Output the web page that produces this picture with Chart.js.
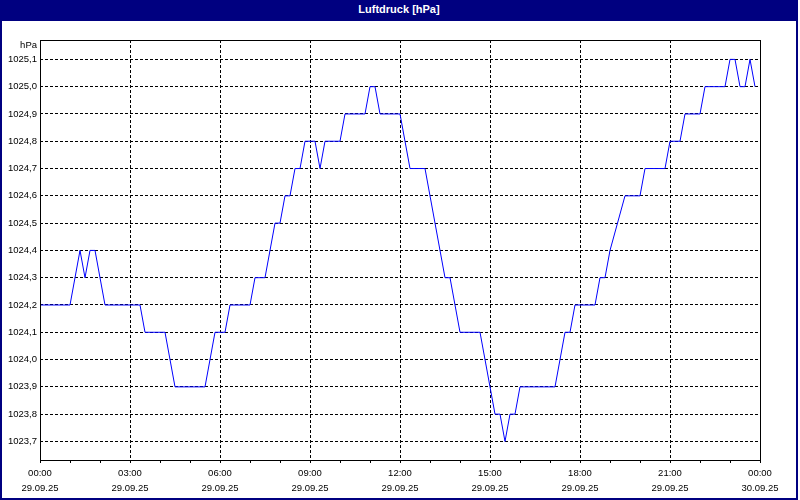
<!DOCTYPE html>
<html>
<head>
<meta charset="utf-8">
<script src="https://cdn.jsdelivr.net/npm/chart.js@4"></script>
<style>
  body { margin: 0; background: #fff; }
  #wrap { position: relative; width: 800px; height: 500px; background: #fff; }
  #chart { position: absolute; left: 0; top: 0; }
  #frame { position: absolute; left: 0; top: 0; width: 798px; height: 500px; box-sizing: border-box; border: 2px solid #000080; pointer-events: none; }
  #title { position: absolute; left: 0; top: 0; width: 798px; height: 21px; background: #000080; color: #fff; font: bold 11px "Liberation Sans", sans-serif; text-align: center; line-height: 19px; }
</style>
</head>
<body>
<div id="wrap">
  <canvas id="chart" width="800" height="500"></canvas>
  <div id="frame"></div>
  <div id="title">Luftdruck [hPa]</div>
</div>
<script>
const times = [
  "00:00", "01:00", "01:20", "01:30", "01:40", "01:50", "02:10", "03:20", "03:30", "04:10",
  "04:30", "05:30", "05:50", "06:10", "06:20", "07:00", "07:10", "07:30", "07:50", "08:00",
  "08:10", "08:20", "08:30", "08:40", "08:50", "09:10", "09:20", "09:30", "10:00", "10:10",
  "10:50", "11:00", "11:10", "11:20", "12:00", "12:20", "12:50", "13:30", "13:40", "14:00",
  "14:40", "15:10", "15:20", "15:30", "15:40", "15:50", "16:00", "17:10", "17:30", "17:40",
  "17:50", "18:30", "18:40", "18:50", "19:00", "19:30", "20:00", "20:10", "20:50", "21:00",
  "21:20", "21:30", "22:00", "22:10", "22:50", "23:00", "23:10", "23:20", "23:30", "23:40",
  "23:50"
];
const values = [
  1024.2, 1024.2, 1024.4, 1024.3, 1024.4, 1024.4, 1024.2, 1024.2, 1024.1, 1024.1,
  1023.9, 1023.9, 1024.1, 1024.1, 1024.2, 1024.2, 1024.3, 1024.3, 1024.5, 1024.5,
  1024.6, 1024.6, 1024.7, 1024.7, 1024.8, 1024.8, 1024.7, 1024.8, 1024.8, 1024.9,
  1024.9, 1025.0, 1025.0, 1024.9, 1024.9, 1024.7, 1024.7, 1024.3, 1024.3, 1024.1,
  1024.1, 1023.8, 1023.8, 1023.7, 1023.8, 1023.8, 1023.9, 1023.9, 1024.1, 1024.1,
  1024.2, 1024.2, 1024.3, 1024.3, 1024.4, 1024.6, 1024.6, 1024.7, 1024.7, 1024.8,
  1024.8, 1024.9, 1024.9, 1025.0, 1025.0, 1025.1, 1025.1, 1025.0, 1025.0, 1025.1,
  1025.0
];
const yTicks = [1023.7, 1023.8, 1023.9, 1024.0, 1024.1, 1024.2, 1024.3, 1024.4,
  1024.5, 1024.6, 1024.7, 1024.8, 1024.9, 1025.0, 1025.1];
const xTickHours = [0, 3, 6, 9, 12, 15, 18, 21, 24];
const xTickTimes = ["00:00", "03:00", "06:00", "09:00", "12:00", "15:00", "18:00", "21:00", "00:00"];
const xTickDates = ["29.09.25", "29.09.25", "29.09.25", "29.09.25", "29.09.25", "29.09.25", "29.09.25", "29.09.25", "30.09.25"];
const yMin = 1023.632;
const yMax = 1025.171;
const unitLabel = "hPa";

const tickFont = { family: "Liberation Sans", size: 9.5, lineHeight: 1.55 };

function toHours(t) {
  const p = t.split(":");
  return parseInt(p[0]) + parseInt(p[1]) / 60;
}

const points = times.map((t, i) => ({ x: toHours(t), y: values[i] }));

const framePlugin = {
  id: "framePlugin",
  afterDraw(chart) {
    const ctx = chart.ctx;
    const a = chart.chartArea;
    ctx.save();
    ctx.strokeStyle = "#000";
    ctx.lineWidth = 1;
    ctx.setLineDash([]);
    ctx.strokeRect(a.left + 0.5, a.top + 0.5, a.right - a.left, a.bottom - a.top);
    ctx.fillStyle = "#000";
    ctx.font = "9.5px 'Liberation Sans'";
    ctx.textAlign = "right";
    ctx.textBaseline = "middle";
    ctx.fillText(unitLabel, a.left - 3, a.top + 5);
    ctx.restore();
  },
};

const ctx = document.getElementById("chart").getContext("2d");
const chart = new Chart(ctx, {
  type: "line",
  data: {
    datasets: [
      {
        label: "Luftdruck",
        data: points,
        borderColor: "#0000ff",
        borderWidth: 1,
        pointRadius: 0,
        tension: 0,
        fill: false,
      },
    ],
  },
  options: {
    responsive: false,
    animation: false,
    parsing: true,
    layout: { padding: { left: 0, top: 40, right: 40, bottom: 0 } },
    plugins: {
      legend: { display: false },
      title: { display: false },
      tooltip: { enabled: false },
    },
    scales: {
      x: {
        type: "linear",
        min: 0,
        max: 24,
        afterFit(s) { s.height = 40; },
        ticks: {
          stepSize: 1,
          autoSkip: false,
          maxRotation: 0,
          padding: 3,
          color: "#000",
          font: tickFont,
          callback: (v) => {
            const i = xTickHours.indexOf(v);
            return i < 0 ? "" : [xTickTimes[i], xTickDates[i]];
          },
        },
        grid: {
          color: (c) => (c.tick && xTickHours.includes(c.tick.value) ? "#000" : "rgba(0,0,0,0)"),
          lineWidth: 1,
          tickColor: "#000",
          tickLength: 3,
        },
        border: { display: false, dash: [3, 2] },
      },
      y: {
        type: "linear",
        min: yMin,
        max: yMax,
        afterFit(s) { s.width = 40; },
        afterBuildTicks(s) { s.ticks = yTicks.map((v) => ({ value: v })); },
        ticks: {
          padding: 3,
          color: "#000",
          font: tickFont,
          callback: (v) => v.toFixed(1).replace(".", ","),
        },
        grid: {
          color: "#000",
          lineWidth: 1,
          drawTicks: false,
        },
        border: { display: false, dash: [3, 2] },
      },
    },
  },
  plugins: [framePlugin],
});
</script>
</body>
</html>
